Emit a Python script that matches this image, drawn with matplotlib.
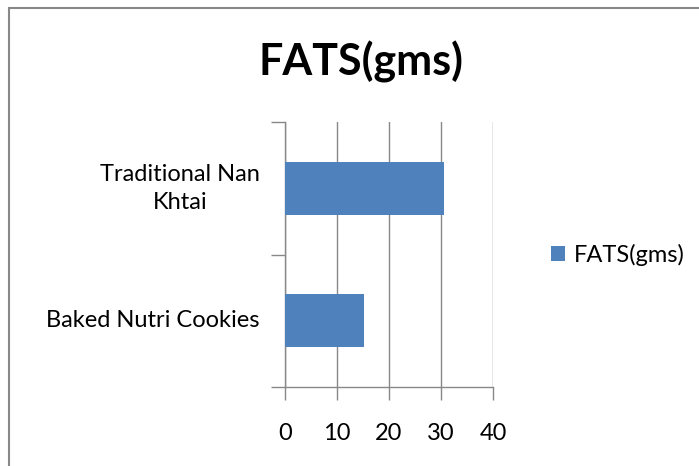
"""Horizontal bar chart: fat content per product."""

import matplotlib
matplotlib.use("Agg")
import matplotlib.pyplot as plt
from matplotlib.patches import Rectangle

plt.rcParams["font.family"] = ["Lato", "DejaVu Sans"]

BAR = "#4F81BD"
GRID = "#888888"

products = ["Baked Nutri Cookies", "Traditional Nan\nKhtai"]
fats = [15.2, 30.6]
xticks = [0, 10, 20, 30, 40]
series_name = "FATS(gms)"

fig = plt.figure(figsize=(6.99, 4.66), dpi=100)
ax = fig.add_axes([0.4077, 0.1695, 0.2976, 0.5687])

pos = list(range(len(products)))
ax.barh(pos, fats, height=0.4, color=BAR, label=series_name, zorder=3)

ax.set_xlim(0, 40)
ax.set_ylim(-0.5, 1.5)
ax.set_xticks(xticks)
ax.set_xticklabels([str(t) for t in xticks], fontsize=17)
ax.set_yticks(pos)
ax.set_yticklabels(products, fontsize=17, linespacing=1.4, va="center")
for lbl in ax.get_yticklabels():
    lbl.set_multialignment("center")
ax.set_yticks([-0.5, 0.5, 1.5], minor=True)
ax.tick_params(axis="y", which="major", length=0, pad=18)
ax.tick_params(axis="y", which="minor", length=10, color=GRID, width=1)
ax.tick_params(axis="x", length=9, color=GRID, width=1, pad=17)
ax.xaxis.grid(True, color=GRID, linewidth=1)

for side in ["top", "right"]:
    ax.spines[side].set_visible(False)
for side in ["left", "bottom"]:
    ax.spines[side].set_color(GRID)
    ax.spines[side].set_linewidth(1)

fig.text(0.517, 0.867, "FATS(gms)", ha="center", va="center",
         fontsize=31, fontweight="bold")

ax.legend(loc="center left", bbox_to_anchor=(1.175, 0.5), frameon=False,
          fontsize=17, handlelength=0.6, handleheight=0.6, handletextpad=0.4)

# chart area border, runs off the right and bottom edges
fig.patches.append(Rectangle((9 / 699, -0.1), 1.1, 1 - 8 / 466 + 0.1,
                             transform=fig.transFigure, fill=False,
                             edgecolor=GRID, linewidth=1.5, clip_on=False))

fig.savefig("out.png", dpi=100)
